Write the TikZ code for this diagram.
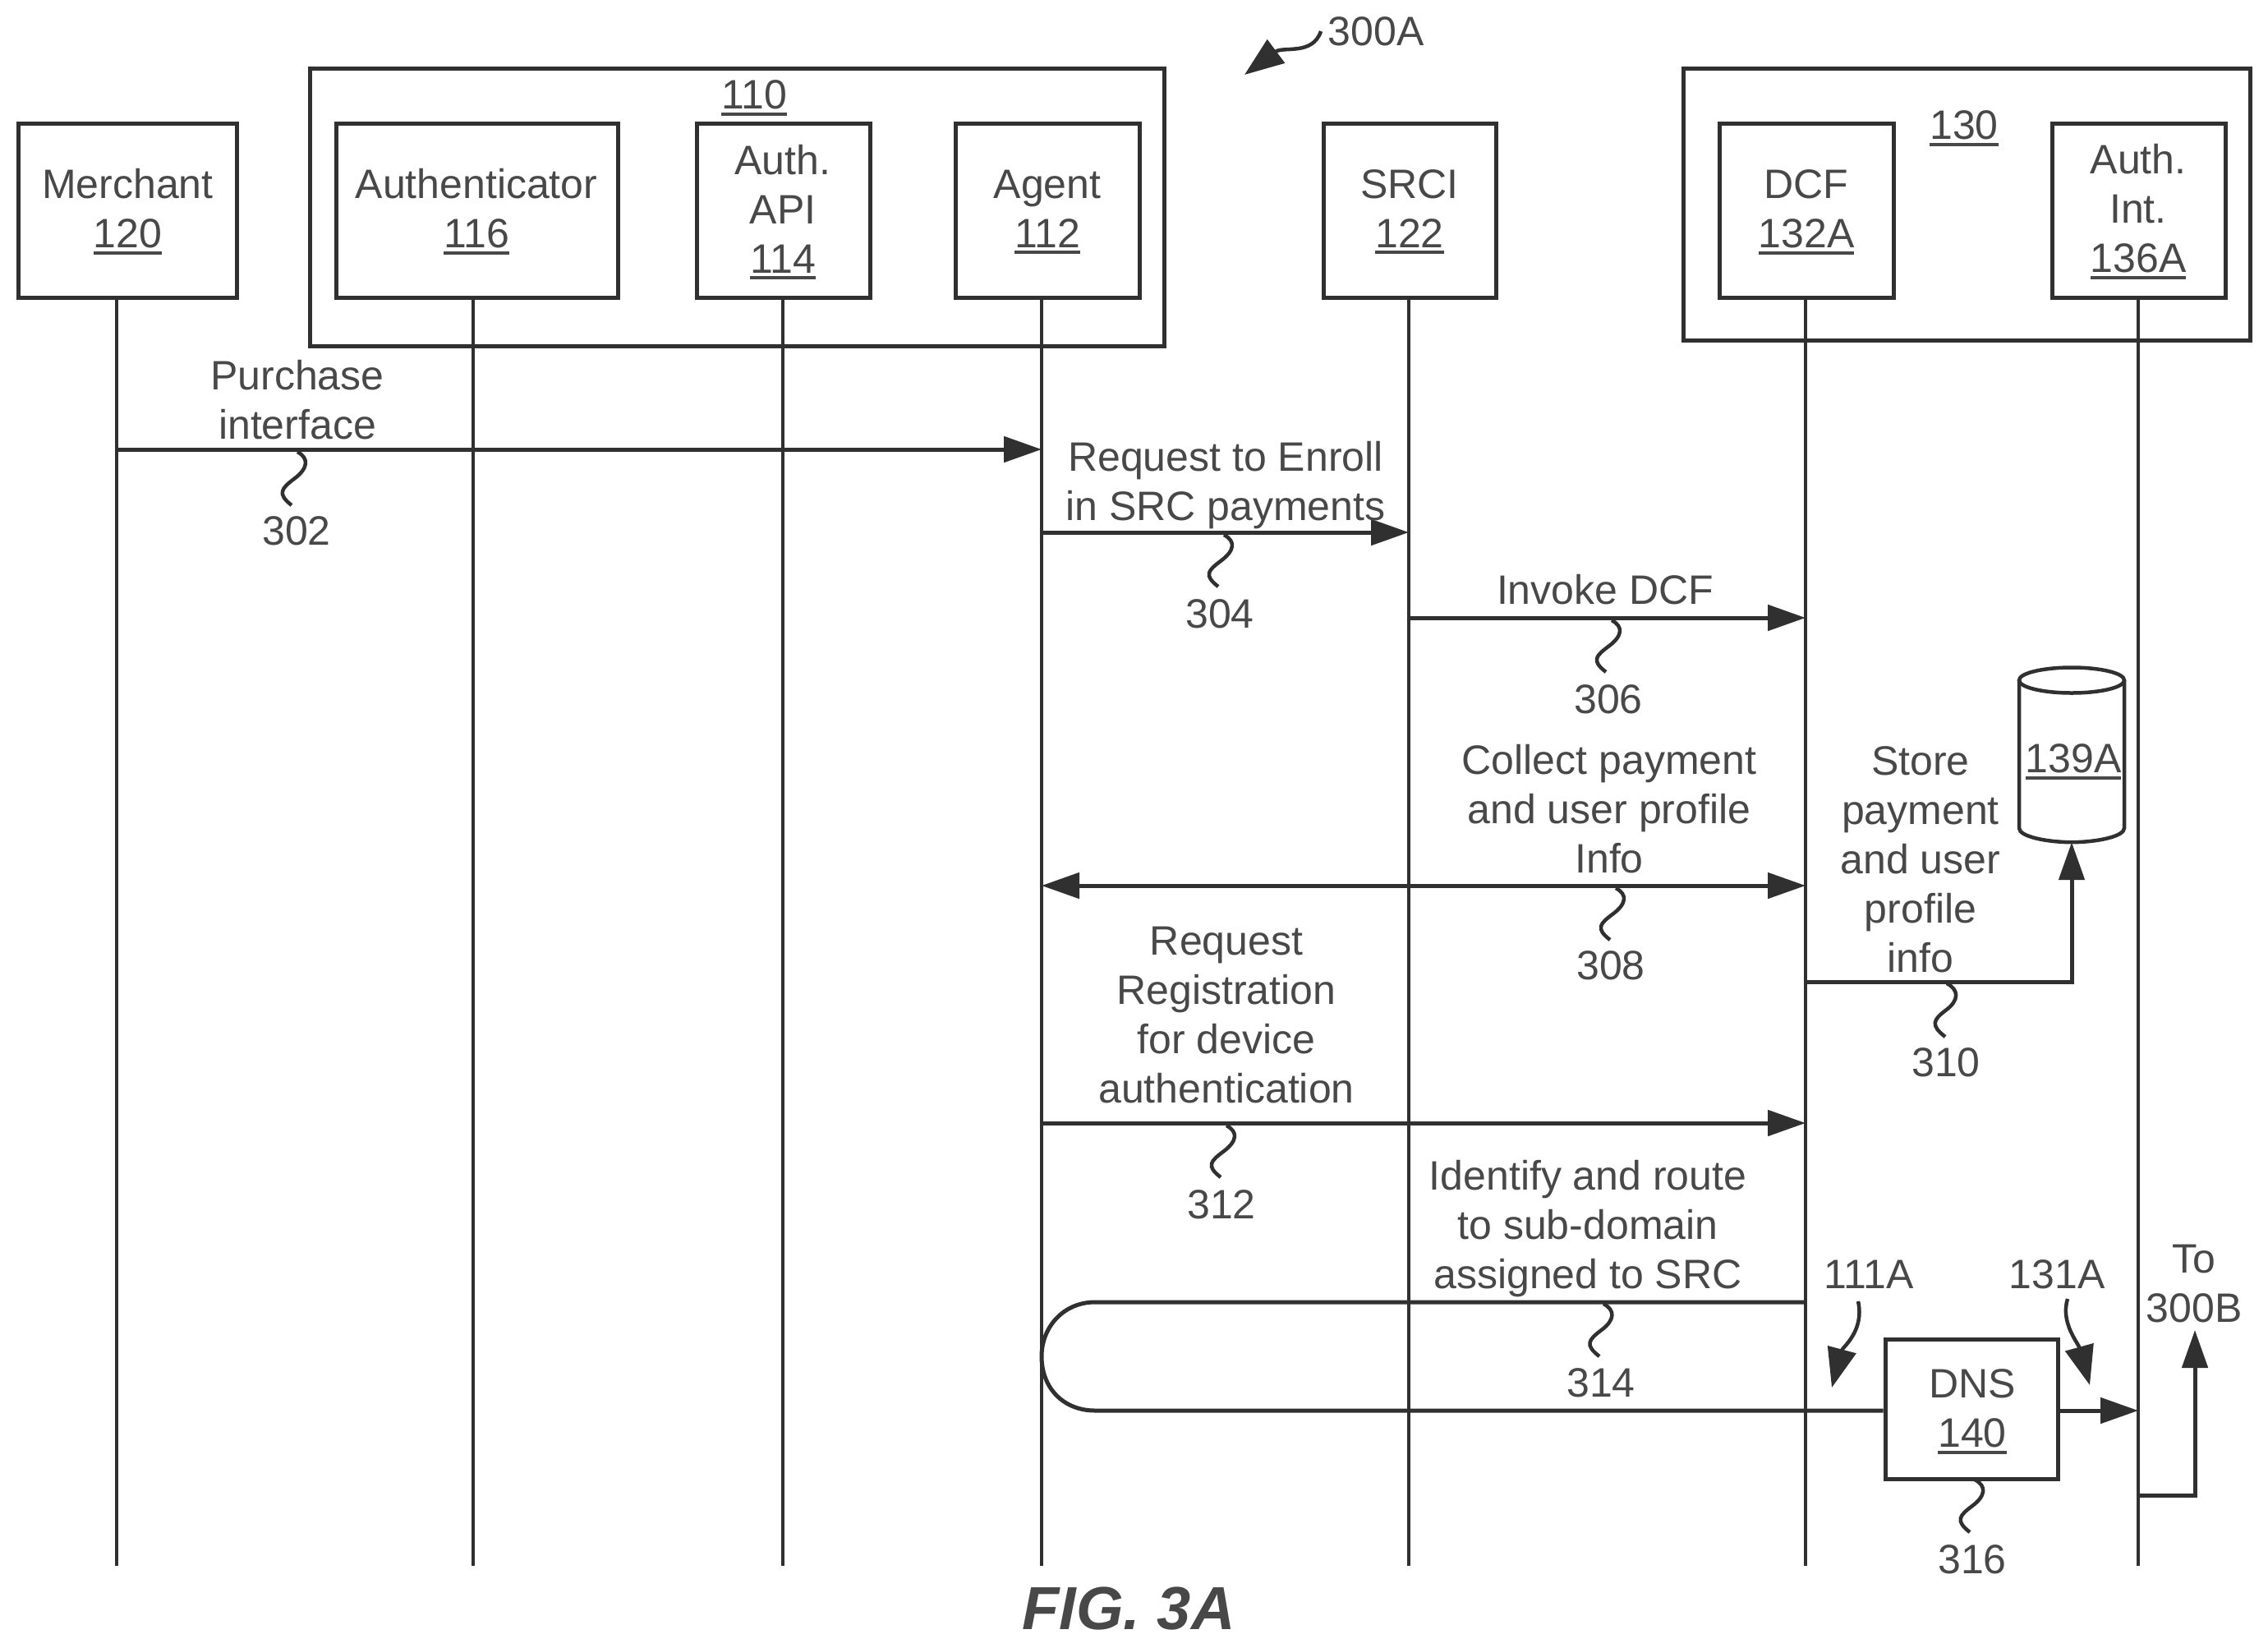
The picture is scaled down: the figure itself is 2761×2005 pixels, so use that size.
\documentclass[tikz,border=0pt]{standalone}
\usepackage{fontspec}
\setmainfont{Liberation Sans}
\usetikzlibrary{arrows.meta,calc}
\newcommand\ulnum[1]{\leavevmode\vtop{\hbox{#1}\kern4pt\hrule height 4pt}}
\definecolor{ink}{HTML}{303030}
\definecolor{txt}{HTML}{484848}
\tikzset{
 every node/.style={font=\fontsize{50}{60}\selectfont,text=txt,align=center,inner sep=0pt},
 box/.style={draw=ink,line width=5pt,fill=white,rectangle,minimum height=212pt},
 group/.style={draw=ink,line width=5pt,rectangle},
 life/.style={draw=ink,line width=4.5pt},
 msg/.style={draw=ink,line width=5pt,-{Triangle[length=46pt,width=31pt,fill=ink]}},
 msgtwo/.style={draw=ink,line width=5pt,{Triangle[length=46pt,width=31pt,fill=ink]}-{Triangle[length=46pt,width=31pt,fill=ink]}},
 plainline/.style={draw=ink,line width=5pt},
 lead/.style={draw=ink,line width=4.5pt},
 leadarrow/.style={draw=ink,line width=4.5pt,-{Triangle[length=48pt,width=35pt,fill=ink]}},
}
\newcommand\squig[2]{\draw[lead] (#1) .. controls ($(#1)+(15,8)$) and ($($(#1)!.5!(#2)$)+(16,-12)$) .. ($(#1)!.5!(#2)$) .. controls ($($(#1)!.5!(#2)$)+(-16,12)$) and ($(#2)+(-18,-14)$) .. (#2);}
\begin{document}
\begin{tikzpicture}[x=1pt,y=-1pt]
\useasboundingbox (0,0) rectangle (2761,2005);
% groups
\node[group,anchor=north west,minimum width=1040pt,minimum height=338pt] (g110) at (375,80.5) {};
\node[group,anchor=north west,minimum width=690pt,minimum height=331pt] (g130) at (2047,80.5) {};
\node (t110) at (918,119) {\ulnum{110}};
\node (t130) at (2391,156) {\ulnum{130}};
% lifeline ends
\coordinate (L1) at (142,1906);
\coordinate (L2) at (576,1906);
\coordinate (L3) at (953,1906);
\coordinate (L4) at (1268,1906);
\coordinate (L5) at (1715,1906);
\coordinate (L6) at (2198,1906);
\coordinate (L7) at (2603,1906);
% boxes
\node[box,minimum width=266pt] (merchant) at (155,256.5) {};
\node[box,minimum width=343pt] (authr) at (580.5,256.5) {};
\node[box,minimum width=211pt] (api) at (953.5,256.5) {};
\node[box,minimum width=224pt] (agent) at (1275,256.5) {};
\node[box,minimum width=210pt] (srci) at (1716,256.5) {};
\node[box,minimum width=212pt] (dcf) at (2199,256.5) {};
\node[box,minimum width=211pt] (authint) at (2603.5,256.5) {};
\node[box,minimum width=210pt,minimum height=170pt] (dns) at (2400,1715) {};
% box texts
\node (tmerchant) at (155.5,258) {Merchant\\\ulnum{120}};
\node (tauthr) at (580,258) {Authenticator\\\ulnum{116}};
\node (tapi) at (953,258) {Auth.\\API\\\ulnum{114}};
\node (tagent) at (1275,258) {Agent\\\ulnum{112}};
\node (tsrci) at (1716,258) {SRCI\\\ulnum{122}};
\node (tdcf) at (2199,258) {DCF\\\ulnum{132A}};
\node (tauthint) at (2603,258) {Auth.\\Int.\\\ulnum{136A}};
\node (tdns) at (2401,1718.5) {DNS\\\ulnum{140}};
% lifelines
\draw[life] (merchant.south -| L1) -- (L1);
\draw[life] (authr.south -| L2) -- (L2);
\draw[life] (api.south -| L3) -- (L3);
\draw[life] (agent.south -| L4) -- (L4);
\draw[life] (srci.south -| L5) -- (L5);
\draw[life] (dcf.south -| L6) -- (L6);
\draw[life] (authint.south -| L7) -- (L7);
% rows
\coordinate (y302) at (0,547);
\coordinate (y304) at (0,648);
\coordinate (y306) at (0,752);
\coordinate (y308) at (0,1078);
\coordinate (y310) at (0,1195);
\coordinate (y312) at (0,1367);
\coordinate (y314a) at (0,1585);
\coordinate (y314b) at (0,1717);
\coordinate (y300b) at (0,1820);
% messages
\draw[msg] (L1 |- y302) -- (L4 |- y302);
\draw[msg] (L4 |- y304) -- (L5 |- y304);
\draw[msg] (L5 |- y306) -- (L6 |- y306);
\draw[msgtwo] (L4 |- y308) -- (L6 |- y308);
% database
\node[minimum width=128pt,minimum height=213pt] (db) at (2522,918.5) {};
\draw[lead] (2522,828) ellipse [x radius=64,y radius=15.5];
\draw[lead] (2458,828) -- (2458,1008) .. controls (2458,1018) and (2490,1025) .. (db.south) .. controls (2554,1025) and (2586,1018) .. (2586,1008) -- (2586,828);
\node[anchor=base] (t139) at (2524,940) {\ulnum{139A}};
\draw[msg] (L6 |- y310) -- (db.south |- y310) -- (db.south);
\draw[msg] (L4 |- y312) -- (L6 |- y312);
\draw[plainline] (L6 |- y314a) -- (1333,1585) .. controls (1295,1585) and (1268,1615) .. (L4 |- 0,1651) .. controls (1268,1690) and (1295,1717) .. (1333,1717) -- (dns.west |- y314b);
\draw[msg] (dns.east |- y314b) -- (L7 |- y314b);
\coordinate (up300b) at (2672,1619);
\draw[msg] (L7 |- y300b) -- (up300b |- y300b) -- (up300b);
% message labels
\node (lpurchase) at (362,487) {Purchase\\interface};
\node (lenroll) at (1492,591) {Request to Enroll\\in SRC payments};
\node (linvoke) at (1954,718) {Invoke DCF};
\node (lcollect) at (1959,984.5) {Collect payment\\and user profile\\Info};
\node (lstore) at (2338,1046) {Store\\payment\\and user\\profile\\info};
\node (lreg) at (1493,1236) {Request\\Registration\\for device\\authentication};
\node (lident) at (1933,1495.5) {Identify and route\\to sub-domain\\assigned to SRC};
\node (l111) at (2275,1551) {111A};
\node (l131) at (2504,1551) {131A};
\node (lto) at (2671,1562.5) {To\\300B};
\node (l300a) at (1675,38) {300A};
\node (n302) at (361,646.5) {302};
\node (n304) at (1485,747) {304};
\node (n306) at (1958,851) {306};
\node (n308) at (1961,1175) {308};
\node (n310) at (2369,1293) {310};
\node (n312) at (1487,1466) {312};
\node (n314) at (1949,1683) {314};
\node (n316) at (2401,1898) {316};
\node[font=\fontsize{74}{84}\selectfont\bfseries\itshape] (fig) at (1374,1958) {FIG. 3A};
% pointer arrows
\coordinate (a300s) at (1608,38); \coordinate (a300e) at (1515,91);
\coordinate (a111s) at (2262,1584); \coordinate (a111e) at (2230,1689);
\coordinate (a131s) at (2517,1581); \coordinate (a131e) at (2544,1686);
\draw[leadarrow] (a300s) .. controls (1598,68) and (1562,56) .. (a300e);
\draw[leadarrow] (a111s) .. controls (2270,1620) and (2243,1640) .. (a111e);
\draw[leadarrow] (a131s) .. controls (2508,1610) and (2530,1635) .. (a131e);
% squiggle leads
\coordinate (s302) at (362,550); \coordinate (e302) at (355,615);
\coordinate (s304) at (1490,651); \coordinate (e304) at (1483,714);
\coordinate (s306) at (1962,755); \coordinate (e306) at (1955,818);
\coordinate (s308) at (1967,1081); \coordinate (e308) at (1960,1144);
\coordinate (s310) at (2370,1197); \coordinate (e310) at (2368,1262);
\coordinate (s312) at (1493,1370); \coordinate (e312) at (1486,1433);
\coordinate (s314) at (1952,1587); \coordinate (e314) at (1947,1651);
\coordinate (s316) at (2404,1801); \coordinate (e316) at (2398,1865);
\squig{s302}{e302}
\squig{s304}{e304}
\squig{s306}{e306}
\squig{s308}{e308}
\squig{s310}{e310}
\squig{s312}{e312}
\squig{s314}{e314}
\squig{s316}{e316}
\end{tikzpicture}
\end{document}
